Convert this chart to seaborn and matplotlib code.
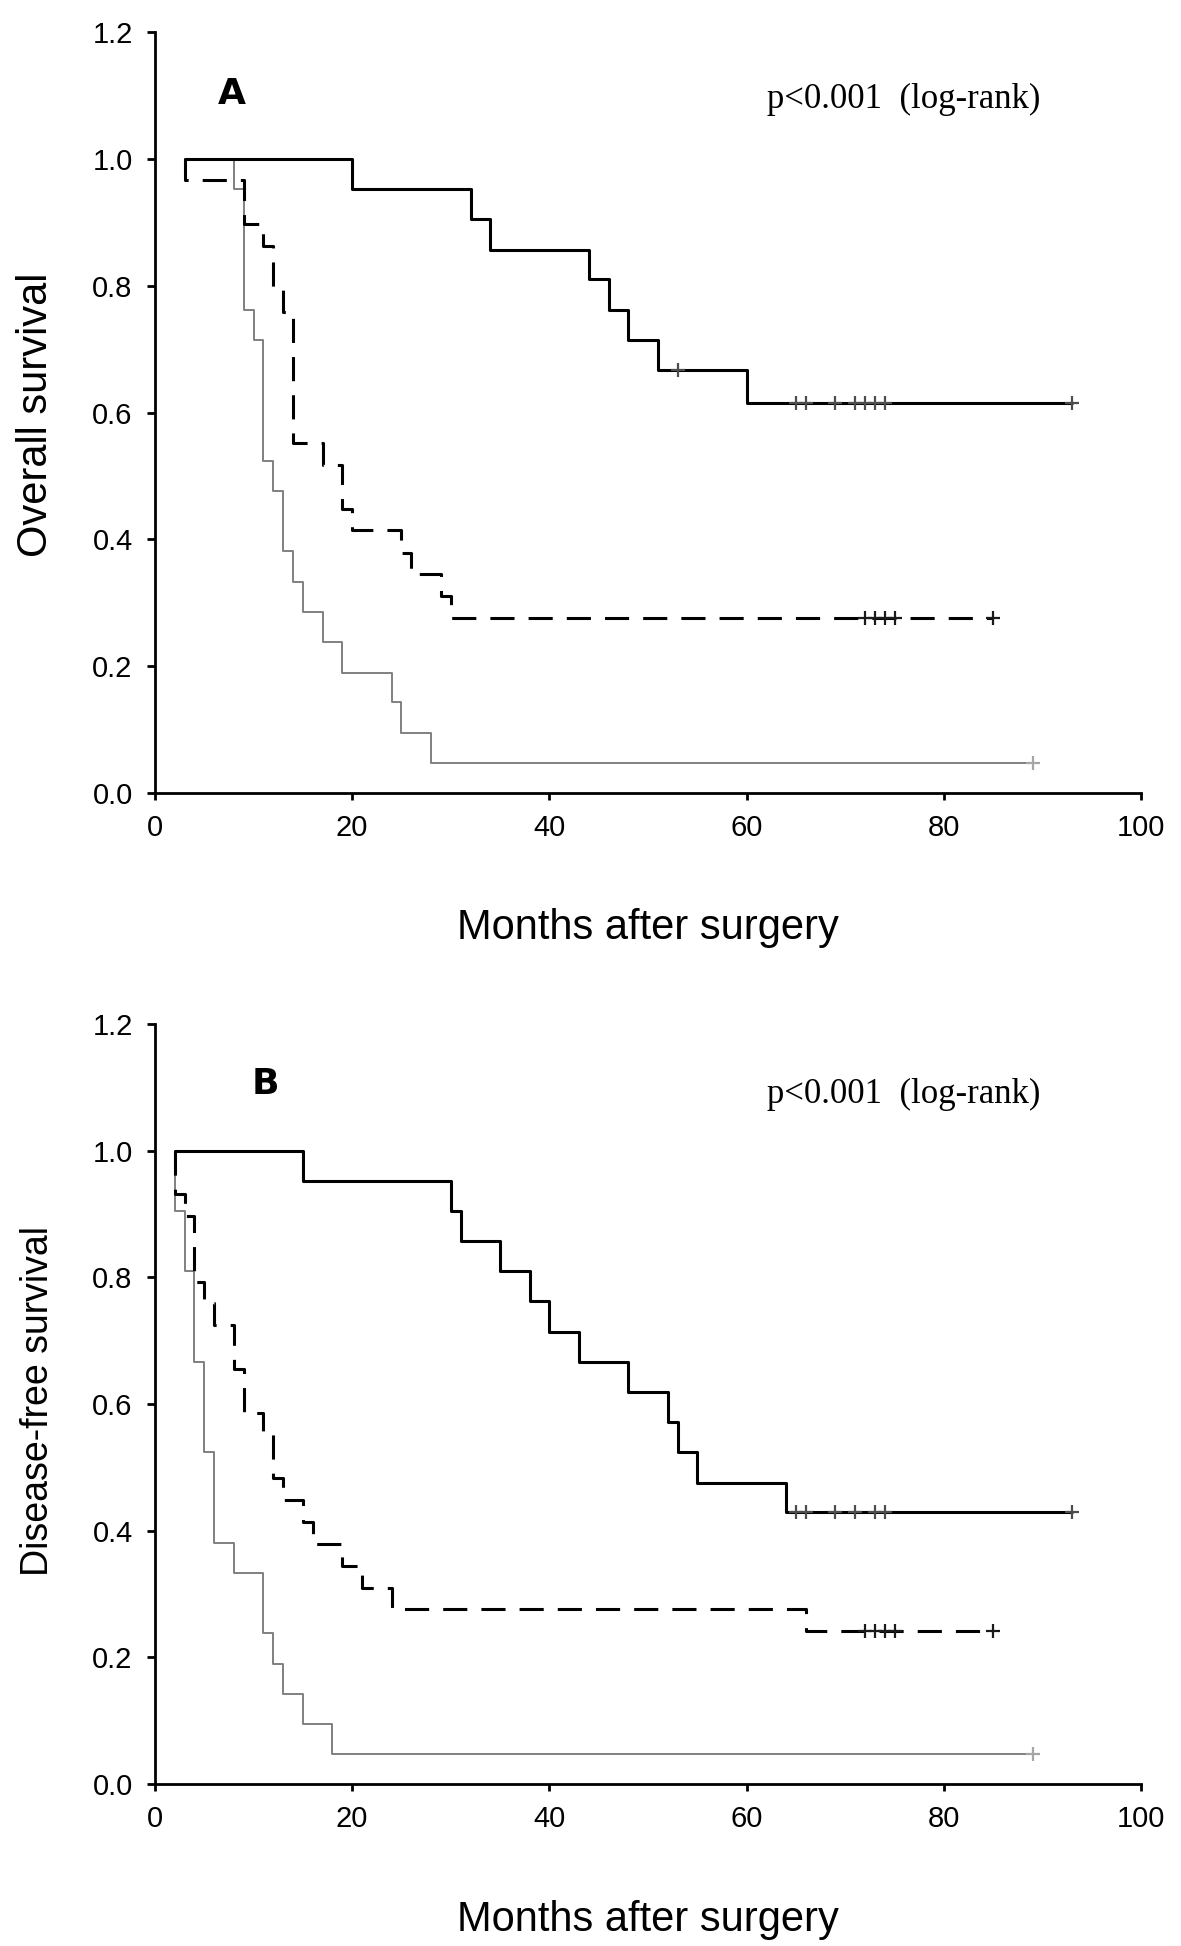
import matplotlib
matplotlib.use("Agg")
import matplotlib.pyplot as plt
import seaborn as sns

# Panel A: overall survival, step times (months) and survival after each step
os_high_t = [3, 20, 32, 34, 44, 46, 48, 51, 60, 93]
os_high_s = [1.0, 0.952, 0.905, 0.857, 0.810, 0.762, 0.714, 0.667, 0.615, 0.615]
os_mid_t = [3, 3, 9, 11, 12, 13, 14, 17, 19, 20, 25, 26, 29, 30, 85]
os_mid_s = [1.0, 0.966, 0.897, 0.862, 0.793, 0.759, 0.552, 0.517, 0.448, 0.414,
            0.379, 0.345, 0.310, 0.276, 0.276]
os_low_t = [3, 8, 9, 10, 11, 12, 13, 14, 15, 17, 19, 24, 25, 28, 89]
os_low_s = [1.0, 0.952, 0.762, 0.714, 0.524, 0.476, 0.381, 0.333, 0.286, 0.238,
            0.190, 0.143, 0.095, 0.048, 0.048]

# censored cases (+ marks)
os_high_cens_t = [53, 65, 66, 69, 71, 72, 73, 74, 93]
os_high_cens_s = [0.667, 0.615, 0.615, 0.615, 0.615, 0.615, 0.615, 0.615, 0.615]
os_mid_cens_t = [72, 73, 74, 75, 85]
os_mid_cens_s = [0.276, 0.276, 0.276, 0.276, 0.276]
os_low_cens_t = [89]
os_low_cens_s = [0.048]

# Panel B: disease-free survival
dfs_high_t = [2, 15, 30, 31, 35, 38, 40, 43, 48, 52, 53, 55, 64, 93]
dfs_high_s = [1.0, 0.952, 0.905, 0.857, 0.810, 0.762, 0.714, 0.667, 0.619,
              0.571, 0.524, 0.476, 0.429, 0.429]
dfs_mid_t = [2, 2, 3, 4, 5, 6, 8, 9, 11, 12, 13, 15, 16, 19, 21, 24, 66, 85]
dfs_mid_s = [1.0, 0.931, 0.897, 0.793, 0.759, 0.724, 0.655, 0.586, 0.552, 0.483,
             0.448, 0.414, 0.379, 0.345, 0.310, 0.276, 0.241, 0.241]
dfs_low_t = [2, 2, 3, 4, 5, 6, 8, 11, 12, 13, 15, 18, 89]
dfs_low_s = [1.0, 0.905, 0.810, 0.667, 0.524, 0.381, 0.333, 0.238, 0.190, 0.143,
             0.095, 0.048, 0.048]

dfs_high_cens_t = [65, 66, 69, 71, 73, 74, 93]
dfs_high_cens_s = [0.429, 0.429, 0.429, 0.429, 0.429, 0.429, 0.429]
dfs_mid_cens_t = [72, 73, 74, 75, 85]
dfs_mid_cens_s = [0.241, 0.241, 0.241, 0.241, 0.241]
dfs_low_cens_t = [89]
dfs_low_cens_s = [0.048]

x_ticks = [0, 20, 40, 60, 80, 100]
y_ticks = [0.0, 0.2, 0.4, 0.6, 0.8, 1.0, 1.2]

line_styles = {
    'low': dict(color='#808080', linewidth=1.4),
    'mid': dict(color='black', linewidth=2.2, dashes=(7.9, 4.6)),
    'high': dict(color='black', linewidth=2.2),
}
censor_colors = {'high': '#4d4d4d', 'mid': '#1a1a1a', 'low': '#a6a6a6'}

sns.set_style("ticks")
plt.rcParams['font.family'] = ['Liberation Sans', 'DejaVu Sans']
plt.rcParams['text.color'] = 'black'
plt.rcParams['axes.labelcolor'] = 'black'
plt.rcParams['xtick.color'] = 'black'
plt.rcParams['ytick.color'] = 'black'


def draw_panel(ax, curves, censors, letter, letter_xy, ylabel, ylabel_size,
               ylabel_y, xlabel_y):
    for key in ['low', 'mid', 'high']:
        t, s = curves[key]
        st = line_styles[key]
        sns.lineplot(x=t, y=s, estimator=None, sort=False, drawstyle='steps-post',
                     color=st['color'], linewidth=st['linewidth'], ax=ax)
        if 'dashes' in st:
            ax.lines[-1].set_dashes(st['dashes'])
    for key in ['low', 'mid', 'high']:
        ct, cs = censors[key]
        sns.scatterplot(x=ct, y=cs, marker='+', s=95, linewidth=1.6,
                        color=censor_colors[key], ax=ax, zorder=4)

    ax.set_xlim(0, 100)
    ax.set_ylim(0, 1.2)
    ax.set_xticks(x_ticks)
    ax.set_xticklabels([str(v) for v in x_ticks])
    ax.set_yticks(y_ticks)
    ax.set_yticklabels([f"{v:.1f}" for v in y_ticks])
    ax.tick_params(axis='y', length=6, width=2, pad=10, labelsize=21,
                   color='black', labelcolor='black')
    ax.tick_params(axis='x', length=5, width=2, pad=10, labelsize=21,
                   color='black', labelcolor='black')
    sns.despine(ax=ax)
    for side in ['left', 'bottom']:
        ax.spines[side].set_linewidth(2)
        ax.spines[side].set_color('black')

    ax.set_ylabel(ylabel, fontsize=ylabel_size, color='black')
    ax.yaxis.set_label_coords(-0.100, ylabel_y)
    ax.set_xlabel('Months after surgery', fontsize=30, color='black')
    ax.xaxis.set_label_coords(0.5, xlabel_y)

    ax.text(letter_xy[0], letter_xy[1], letter, ha='center', va='center',
            fontsize=26, fontweight='heavy', family='DejaVu Sans', color='black')
    ax.text(62.1, letter_xy[2], 'p<0.001  (log-rank)', ha='left', va='center',
            fontsize=25, family='Liberation Serif', color='black')


fig = plt.figure(figsize=(11.81, 19.46), dpi=100)
ax_a = fig.add_axes([0.1312, 0.5925, 0.835, 0.391])
ax_b = fig.add_axes([0.1312, 0.0832, 0.835, 0.3906])

draw_panel(ax_a,
           {'high': (os_high_t, os_high_s), 'mid': (os_mid_t, os_mid_s),
            'low': (os_low_t, os_low_s)},
           {'high': (os_high_cens_t, os_high_cens_s),
            'mid': (os_mid_cens_t, os_mid_cens_s),
            'low': (os_low_cens_t, os_low_cens_s)},
           'A', (7.8, 1.102, 1.093), 'Overall survival', 30, 0.497, -0.151)

draw_panel(ax_b,
           {'high': (dfs_high_t, dfs_high_s), 'mid': (dfs_mid_t, dfs_mid_s),
            'low': (dfs_low_t, dfs_low_s)},
           {'high': (dfs_high_cens_t, dfs_high_cens_s),
            'mid': (dfs_mid_cens_t, dfs_mid_cens_s),
            'low': (dfs_low_cens_t, dfs_low_cens_s)},
           'B', (11.2, 1.105, 1.089), 'Disease-free survival', 27, 0.504, -0.153)

fig.savefig('out.png', dpi=100)
